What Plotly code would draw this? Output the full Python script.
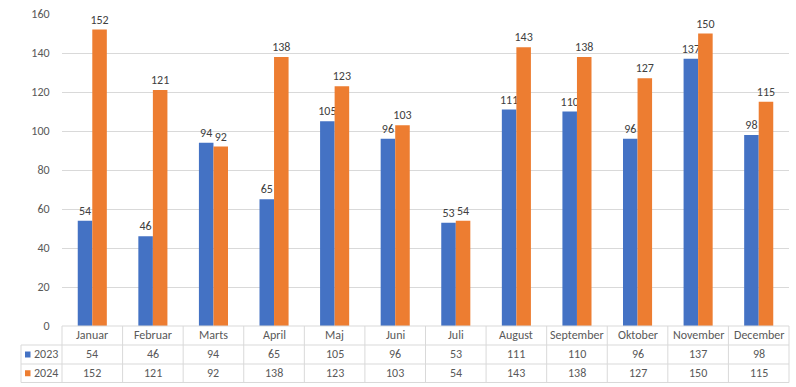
import plotly.graph_objects as go

months = ["Januar", "Februar", "Marts", "April", "Maj", "Juni", "Juli",
          "August", "September", "Oktober", "November", "December"]
series_names = ["2023", "2024"]
values_2023 = [54, 46, 94, 65, 105, 96, 53, 111, 110, 96, 137, 98]
values_2024 = [152, 121, 92, 138, 123, 103, 54, 143, 138, 127, 150, 115]
colors = ["#4472C4", "#ED7D31"]

W, H = 796, 387
L, R, T, B = 62, 7, 14, 61
PW, PH = W - L - R, H - T - B
FONT = "Calibri, Carlito, Lato, sans-serif"
TXT = "#595959"
GRID = "#d9d9d9"

def px_x(x):  # pixel x -> paper
    return (x - L) / PW

def px_y(y):  # pixel y -> paper
    return (H - B - y) / PH

fig = go.Figure()
for name, vals, c in zip(series_names, [values_2023, values_2024], colors):
    fig.add_trace(go.Bar(
        x=months, y=vals, name=name, marker_color=c, marker_line_width=0,
        text=[str(v) for v in vals], textposition="outside",
        textfont=dict(family=FONT, size=12, color="#404040"),
        constraintext="none",
        cliponaxis=False,
    ))

shapes = []
ann = []
y_top, y_r1, y_r2, y_bot = 326, 345, 364, 382.5
x_left_keys = 21
line = dict(color=GRID, width=1)
shapes.append(dict(type="line", xref="paper", yref="paper", x0=0, x1=1,
                   y0=px_y(y_top), y1=px_y(y_top), line=line))
for yy in (y_r1, y_r2, y_bot):
    shapes.append(dict(type="line", xref="paper", yref="paper",
                       x0=px_x(x_left_keys), x1=1, y0=px_y(yy), y1=px_y(yy), line=line))
shapes.append(dict(type="line", xref="paper", yref="paper", x0=px_x(x_left_keys),
                   x1=px_x(x_left_keys), y0=px_y(y_r1), y1=px_y(y_bot), line=line))
n = len(months)
for i in range(n + 1):
    xx = i / n
    shapes.append(dict(type="line", xref="paper", yref="paper", x0=xx, x1=xx,
                       y0=px_y(y_top), y1=px_y(y_bot), line=line))

rows = [(y_top + y_r1) / 2, (y_r1 + y_r2) / 2, (y_r2 + y_bot) / 2]
for i, m in enumerate(months):
    xc = (i + 0.5) / n
    ann.append(dict(x=xc, y=px_y(rows[0]), xref="paper", yref="paper", text=m,
                    xanchor="center", yanchor="middle",
                    showarrow=False, font=dict(family=FONT, size=12, color=TXT)))
    for r, vals in zip(rows[1:], [values_2023, values_2024]):
        ann.append(dict(x=xc, y=px_y(r), xref="paper", yref="paper", text=str(vals[i]),
                        xanchor="center", yanchor="middle",
                        showarrow=False, font=dict(family=FONT, size=12, color=TXT)))
for r, name, c in zip(rows[1:], series_names, colors):
    shapes.append(dict(type="rect", xref="paper", yref="paper",
                       x0=px_x(25), x1=px_x(30.5), y0=px_y(r + 3), y1=px_y(r - 3),
                       fillcolor=c, line=dict(width=0)))
    ann.append(dict(x=px_x(32), y=px_y(r), xref="paper", yref="paper", text=name,
                    xanchor="left", yanchor="middle", showarrow=False,
                    font=dict(family=FONT, size=12, color=TXT)))

fig.update_layout(
    width=W, height=H,
    margin=dict(l=L, r=R, t=T, b=B),
    barmode="group", bargap=0.52, bargroupgap=0,
    plot_bgcolor="white", paper_bgcolor="white",
    showlegend=False,
    shapes=shapes, annotations=ann,
    font=dict(family=FONT, size=12, color=TXT),
    xaxis=dict(showticklabels=False, showgrid=False, zeroline=False, showline=False),
    yaxis=dict(range=[0, 160], dtick=20, showgrid=True, gridcolor=GRID, gridwidth=1,
               zeroline=False, showline=False, ticks="outside", ticklen=9,
               tickcolor="rgba(0,0,0,0)",
               tickfont=dict(family=FONT, size=12, color=TXT)),
)

fig.write_html("out.html", config={"displayModeBar": False},
               post_script="document.body.style.margin='0';")
